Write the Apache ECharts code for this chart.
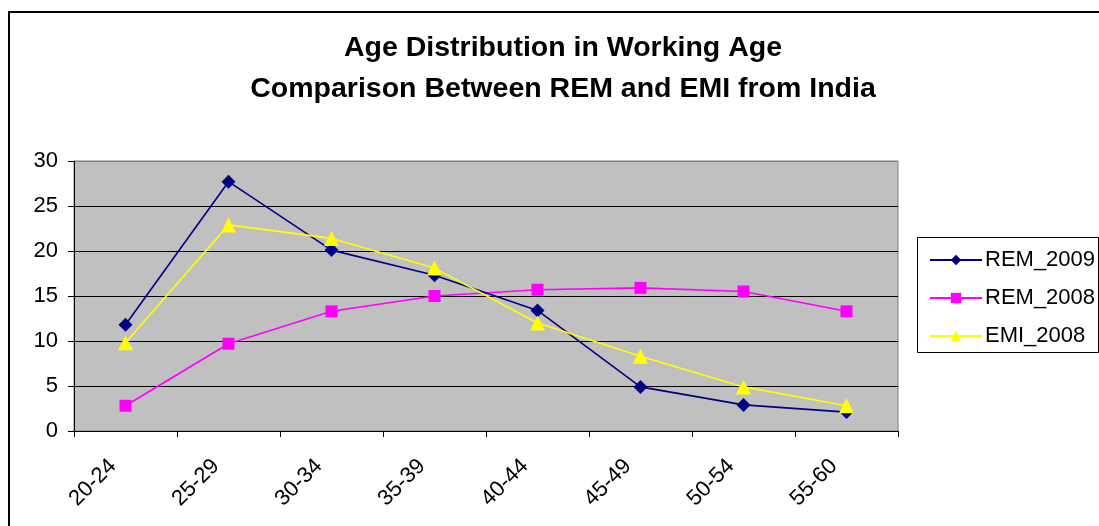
<!DOCTYPE html>
<html>
<head>
<meta charset="utf-8">
<script src="https://cdn.jsdelivr.net/npm/echarts@6/dist/echarts.min.js"></script>
<style>
html,body{margin:0;padding:0;background:#fff;}
#c{width:1099px;height:526px;}
</style>
</head>
<body>
<div id="c"></div>
<script>
const categories = ['20-24','25-29','30-34','35-39','40-44','45-49','50-54','55-60'];
const rem2009 = [11.8, 27.7, 20.1, 17.3, 13.4, 4.9, 2.9, 2.1];
const rem2008 = [2.8, 9.7, 13.3, 15.0, 15.7, 15.9, 15.5, 13.3];
const emi2008 = [9.8, 22.9, 21.4, 18.1, 12.0, 8.3, 4.9, 2.8];
const titleLines = ['Age Distribution in Working Age', 'Comparison Between REM and EMI from India'];

const chart = echarts.init(document.getElementById('c'), null, {renderer:'canvas'});
const font = 'Liberation Sans, Arial, sans-serif';
chart.setOption({
  animation:false,
  backgroundColor:'#fff',
  title:{
    text: titleLines.join('\n'),
    left: 558, top: 23, textAlign:'center',
    textStyle:{fontFamily:font, fontWeight:'bold', fontSize:28.5, color:'#000', lineHeight:41}
  },
  grid:{left:74, top:161, right:201, bottom:95, show:true, backgroundColor:'#C0C0C0', borderColor:'#808080', borderWidth:1},
  legend:{
    orient:'vertical', left:924, top:244, itemGap:16, itemWidth:52, itemHeight:13,
    textStyle:{fontFamily:font, fontSize:22, color:'#000', padding:[0,0,0,-2]},
    data:['REM_2009','REM_2008','EMI_2008']
  },
  xAxis:{
    type:'category', data:categories, boundaryGap:true,
    axisLine:{lineStyle:{color:'#000', width:1}},
    axisTick:{show:true, length:6, alignWithLabel:false, lineStyle:{color:'#000'}},
    axisLabel:{rotate:45, fontFamily:font, fontSize:22, color:'#000', margin:19, padding:[0,18,0,0]},
    splitLine:{show:false}
  },
  yAxis:{
    type:'value', min:0, max:30, interval:5,
    axisLine:{show:true, lineStyle:{color:'#000', width:1}},
    axisTick:{show:true, length:6, lineStyle:{color:'#000'}},
    axisLabel:{fontFamily:font, fontSize:22, color:'#000', margin:16},
    splitLine:{show:true, lineStyle:{color:['#000','#000','#000','#000','#000','#000','#808080'], width:1}}
  },
  series:[
    {name:'REM_2009', type:'line', data:rem2009, symbol:'diamond', symbolSize:14,
     itemStyle:{color:'#000080'}, lineStyle:{color:'#000080', width:1.6}, z:3},
    {name:'REM_2008', type:'line', data:rem2008, symbol:'rect', symbolSize:12,
     itemStyle:{color:'#FF00FF'}, lineStyle:{color:'#FF00FF', width:1.6}, z:2},
    {name:'EMI_2008', type:'line', data:emi2008, symbol:'triangle', symbolSize:15,
     itemStyle:{color:'#FFFF00'}, lineStyle:{color:'#FFFF00', width:1.6}, z:4}
  ],
  graphic:[
    {type:'rect', shape:{x:9, y:12, width:1200, height:600}, style:{fill:'none', stroke:'#000', lineWidth:2}, silent:true},
    {type:'rect', shape:{x:917.5, y:237.5, width:181, height:115}, style:{fill:'none', stroke:'#000', lineWidth:1}, silent:true}
  ]
});
</script>
</body>
</html>
